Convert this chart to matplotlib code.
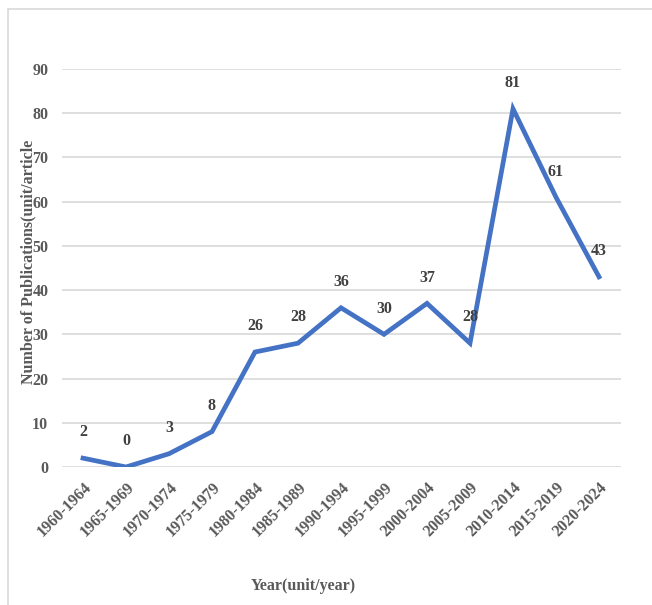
import matplotlib.pyplot as plt
from matplotlib.patches import Rectangle

periods = ['1960-1964', '1965-1969', '1970-1974', '1975-1979', '1980-1984',
           '1985-1989', '1990-1994', '1995-1999', '2000-2004', '2005-2009',
           '2010-2014', '2015-2019', '2020-2024']
counts = [2, 0, 3, 8, 26, 28, 36, 30, 37, 28, 81, 61, 43]
yticks = [0, 10, 20, 30, 40, 50, 60, 70, 80, 90]

plt.rcParams['font.family'] = ['Liberation Serif', 'DejaVu Serif']
plt.rcParams['font.weight'] = 'bold'

fig = plt.figure(figsize=(6.52, 6.05), dpi=100)
ax = fig.add_axes([61.5 / 652, 1 - 467 / 605, 559 / 652, 398 / 605])

x = list(range(len(periods)))
ax.plot(x, counts, color='#4472C4', lw=3.4, solid_joinstyle='miter', zorder=3)

for i, v in enumerate(counts):
    ax.annotate(str(v), (i, v), xytext=(0, 18.5), textcoords='offset points',
                ha='center', va='center', fontsize=11.5, fontweight='bold',
                color='#404040')

ax.set_xlim(-0.5, len(periods) - 0.5)
ax.set_ylim(0, 90)
ax.set_yticks(yticks)
ax.set_xticks(x)
ax.set_xticklabels(periods, rotation=45, ha='right', rotation_mode='anchor')
ax.tick_params(length=0, labelsize=11.5, labelcolor='#595959')
ax.tick_params(axis='y', pad=9.5)
ax.tick_params(axis='x', pad=9)
for lab in ax.get_xticklabels() + ax.get_yticklabels():
    lab.set_fontweight('bold')
ax.grid(axis='y', color='#d9d9d9', lw=1.2)
ax.set_axisbelow(True)
for s in ax.spines.values():
    s.set_visible(False)

fig.text(28 / 652, 1 - 262 / 605, 'Number of Publications(unit/article',
         rotation=90, ha='center', va='center', fontsize=11.5,
         fontweight='bold', color='#595959')
fig.text(303 / 652, 1 - 586 / 605, 'Year(unit/year)', ha='center', va='center',
         fontsize=11.5, fontweight='bold', color='#595959')

fig.patches.append(Rectangle((8 / 652, -0.1), 1.2, 1 - 9 / 605 + 0.1,
                             transform=fig.transFigure, fill=False,
                             ec='#d9d9d9', lw=1.2))

fig.savefig('out.png', dpi=100)
